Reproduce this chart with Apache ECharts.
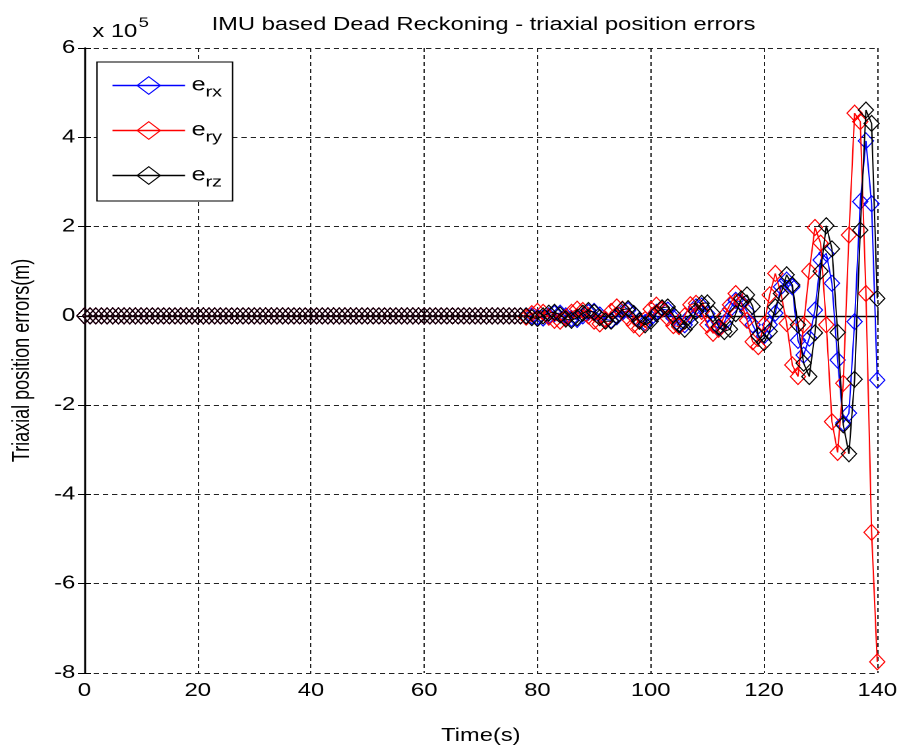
<!DOCTYPE html>
<html>
<head>
<meta charset="utf-8">
<script src="https://cdn.jsdelivr.net/npm/echarts@6/dist/echarts.min.js"></script>
<style>
  html, body { margin: 0; padding: 0; background: #fff; overflow: hidden; }
  /* the source figure was stretched sideways, so the chart is drawn narrower and scaled in x */
  #main { width: 683px; height: 756px; transform: scaleX(1.3192); transform-origin: 0 0; }
</style>
</head>
<body>
<div id="main"></div>
<script>
  // position errors in units of 1e5 m, one sample per second (0..140 s)
  const quiet = [
    0,0,0,0,0,0,0,0,0,0,0,0,0,0,0,0,0,0,0,0,0,0,0,0,0,0,
    0,0,0,0,0,0,0,0,0,0,0,0,0,0,0,0,0,0,0,0,0,0,0,0,0,0,
    0,0,0,0,0,0,0,0,0,0,0,0,0,0,0,0,0,0,0,0,0,0,0,0,0,0
  ]
  const erx = quiet.concat([
    0.0, 0.0, -0.03, -0.05, 0.0, 0.05, 0.06, 0.0, -0.06, -0.08,
    0.0, 0.08, 0.1, 0.02, -0.08, -0.1, -0.02, 0.08, 0.12, 0.05,
    -0.1, -0.15, -0.05, 0.08, 0.15, 0.13, -0.05, -0.18, -0.2, 0.0,
    0.2, 0.22, 0.05, -0.2, -0.28, -0.15, 0.15, 0.35, 0.3, 0.1,
    -0.2, -0.45, -0.45, -0.2, 0.06, 0.65, 0.8, 0.65, -0.55, -0.88,
    -0.5, 0.13, 1.25, 1.4, 0.73, -0.99, -2.4, -2.18, -0.13, 2.56,
    3.92, 2.51, -1.44
  ])
  const ery = quiet.concat([
    -0.03, 0.05, 0.1, 0.08, -0.03, -0.1, -0.12, -0.04, 0.08, 0.15,
    0.12, 0.0, -0.12, -0.18, -0.08, 0.1, 0.2, 0.15, -0.05, -0.2,
    -0.28, -0.08, 0.15, 0.24, 0.15, -0.05, -0.22, -0.24, 0.0, 0.25,
    0.28, 0.1, -0.2, -0.39, -0.3, 0.0, 0.25, 0.5, 0.28, -0.1,
    -0.58, -0.69, -0.2, 0.47, 0.95, 0.5, -0.17, -1.1, -1.36, -0.2,
    1.0, 1.98, 1.63, -0.2, -2.37, -3.06, -1.51, 1.81, 4.54, 4.35,
    0.5, -4.85, -7.75
  ])
  const erz = quiet.concat([
    0.0, -0.04, -0.06, 0.0, 0.06, 0.08, 0.02, -0.07, -0.1, -0.04,
    0.06, 0.12, 0.08, -0.04, -0.12, -0.12, 0.0, 0.14, 0.16, 0.05,
    -0.12, -0.2, -0.12, 0.05, 0.18, 0.2, 0.02, -0.2, -0.3, -0.15,
    0.1, 0.28, 0.29, 0.05, -0.25, -0.35, -0.3, 0.05, 0.38, 0.47,
    0.21, -0.45, -0.6, -0.35, 0.2, 0.5, 0.92, 0.69, -0.2, -1.06,
    -1.36, -0.38, 1.0, 2.02, 1.5, -0.37, -2.44, -3.09, -1.42, 1.92,
    4.61, 4.31, 0.39
  ])
  const xTicks = [0, 20, 40, 60, 80, 100, 120, 140]
  const yTicks = [-8, -6, -4, -2, 0, 2, 4, 6]
  const seriesNames = ['erx', 'ery', 'erz']
  const seriesColors = ['#0000ff', '#ff0000', '#000000']

  const font = '"Liberation Sans", Arial, Helvetica, sans-serif'
  const values = [erx, ery, erz]

  let chart = echarts.init(document.getElementById('main'), null, {devicePixelRatio: 2})

  let gridLine = {
    show: true,
    lineStyle: { color: '#222', width: 1, type: [4, 3] }
  }
  let frameLine = { show: true, lineStyle: { color: '#000', width: 1.3 } }
  let tick = { show: true, inside: true, length: 5, lineStyle: { color: '#000', width: 1 } }

  let series = seriesNames.map((name, k) => ({
    name: name,
    type: 'line',
    data: values[k].map((v, i) => [i, v]),
    symbol: 'diamond',
    symbolSize: [11.5, 16],
    lineStyle: { color: seriesColors[k], width: 1 },
    itemStyle: { color: 'rgba(255,255,255,0)', borderColor: seriesColors[k], borderWidth: 1 },
    emphasis: { disabled: true },
    z: 2 + k
  }))

  // thin legend lines in each series colour
  let legendData = seriesNames.map((name, k) => ({
    name: name,
    lineStyle: { color: seriesColors[k], width: 1.5 },
    itemStyle: { color: 'rgba(255,255,255,0)', borderColor: seriesColors[k], borderWidth: 1 }
  }))

  let options = {
    animation: false,
    backgroundColor: '#fff',
    textStyle: { fontFamily: font },
    title: {
      text: 'IMU based Dead Reckoning - triaxial position errors',
      left: 361.5,
      textAlign: 'center',
      top: 11,
      textStyle: { fontFamily: font, fontSize: 18, fontWeight: 'normal', color: '#000' }
    },
    graphic: [{
      type: 'text',
      left: 70,
      top: 16,
      style: {
        text: '{a|x 10}{s|5}',
        rich: {
          a: { fontFamily: font, fontSize: 18, fill: '#000', padding: [8, 0, 0, 0] },
          s: { fontFamily: font, fontSize: 14, fill: '#000', padding: [0, 0, 10, 1] }
        }
      }
    }],
    legend: {
      data: legendData,
      orient: 'vertical',
      left: 73.5,
      top: 62,
      padding: [14, 8, 11, 11],
      itemGap: 21,
      itemWidth: 55,
      itemHeight: 22,
      backgroundColor: '#fff',
      borderColor: '#000',
      borderWidth: 1,
      borderRadius: 0,
      formatter: function (name) {
        return '{e|e}{s|' + name.slice(1) + '}'
      },
      textStyle: {
        rich: {
          e: { fontFamily: font, fontSize: 19, color: '#000' },
          s: { fontFamily: font, fontSize: 15, color: '#000', padding: [14, 0, 0, 0] }
        }
      }
    },
    grid: { left: 62.9, right: 14.3, top: 48, bottom: 83, containLabel: false },
    xAxis: [{
      type: 'value',
      min: xTicks[0],
      max: xTicks[xTicks.length - 1],
      interval: 20,
      name: 'Time(s)',
      nameLocation: 'middle',
      nameGap: 54,
      nameTextStyle: { fontFamily: font, fontSize: 18, color: '#000' },
      axisLine: frameLine,
      axisTick: tick,
      axisLabel: { fontFamily: font, fontSize: 18, color: '#000', margin: 9 },
      splitLine: gridLine
    }, {
      type: 'value',
      position: 'top',
      min: xTicks[0],
      max: xTicks[xTicks.length - 1],
      interval: 20,
      axisLine: frameLine,
      axisTick: tick,
      axisLabel: { show: false },
      splitLine: { show: false }
    }],
    yAxis: [{
      type: 'value',
      min: yTicks[0],
      max: yTicks[yTicks.length - 1],
      interval: 2,
      name: 'Triaxial position errors(m)',
      nameLocation: 'middle',
      nameGap: 38,
      nameTextStyle: { fontFamily: font, fontSize: 18, color: '#000' },
      axisLine: frameLine,
      axisTick: tick,
      axisLabel: { fontFamily: font, fontSize: 18, color: '#000', margin: 7 },
      splitLine: gridLine
    }, {
      type: 'value',
      position: 'right',
      min: yTicks[0],
      max: yTicks[yTicks.length - 1],
      interval: 2,
      axisLine: frameLine,
      axisTick: tick,
      axisLabel: { show: false },
      splitLine: { show: false }
    }],
    series: series
  }

  chart.setOption(options, true)
</script>
</body>
</html>
